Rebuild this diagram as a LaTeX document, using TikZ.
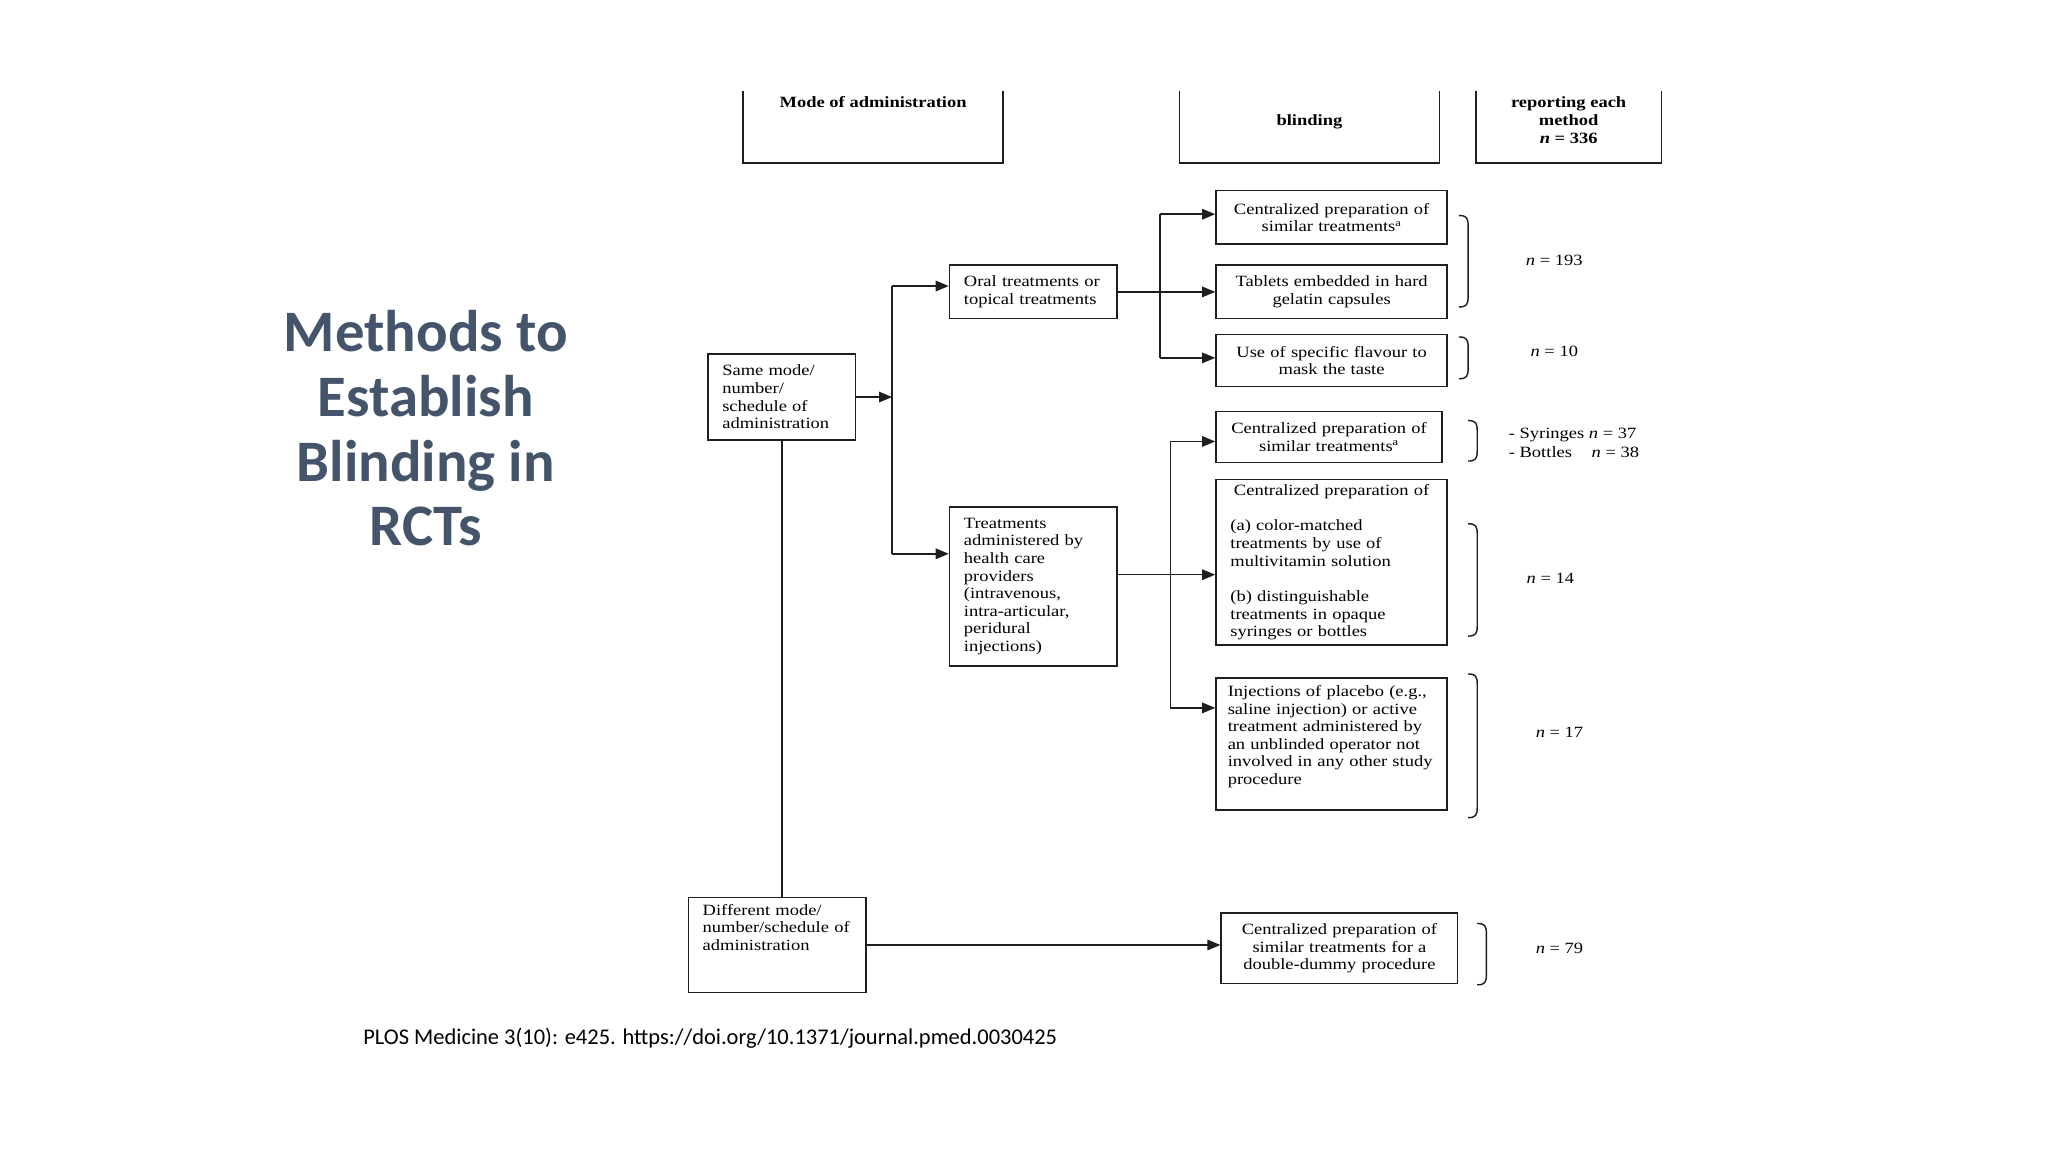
\documentclass[tikz,border=0pt]{standalone}
\usepackage{fontspec}
\setmainfont[FakeStretch=1.18]{Liberation Serif}
\newfontfamily\calibri{Carlito}
\usetikzlibrary{arrows.meta}
\definecolor{titleblue}{HTML}{44546A}
\definecolor{linec}{HTML}{1E1E1E}
\newcommand\bodyfont{\fontsize{12}{13.5}\selectfont}
\newcommand\rbrk[3]{\draw[brk] (#1,#2) .. controls (#1+6,#2) and (#1+7,#2+2) .. (#1+7,#2+8) -- (#1+7,#3-8) .. controls (#1+7,#3-2) and (#1+6,#3) .. (#1,#3);}
\tikzset{
  box/.style={draw=linec, line width=1.2pt, inner xsep=11pt, inner ysep=0pt, font=\bodyfont},
  lbox/.style={box, align=left},
  cbox/.style={box, align=center},
  conn/.style={draw=linec, line width=1.2pt},
  arr/.style={conn, -{Triangle[length=10pt,width=8pt]}},
  brk/.style={draw=linec, line width=1.1pt},
  lab/.style={font=\bodyfont, inner sep=0pt},
  hlab/.style={font=\bodyfont\bfseries, inner sep=0pt, align=center},
}
\begin{document}
\begin{tikzpicture}[x=1pt,y=-1pt]
\useasboundingbox[fill=white] (0,0) rectangle (1568,882);

% title
\node (title) [font=\calibri\bfseries\fontsize{45}{49.5}\selectfont, text=titleblue, align=center, inner sep=0pt] at (326,328) {Methods to\\Establish\\Blinding in\\RCTs};
\node (cite) [font=\calibri\fontsize{17.2}{19}\selectfont, anchor=west, inner sep=0pt] at (278,795) {PLOS Medicine 3(10): e425. https://doi.org/10.1371/journal.pmed.0030425};

% header boxes (tops cropped)
\draw[conn] (569,70) |- (768,125) -- (768,70);
\draw[conn] (903,70) |- (1102,125) -- (1102,70);
\draw[conn] (1130,70) |- (1272,125) -- (1272,70);
\node (h1) [hlab] at (668.5,78) {Mode of administration};
\node (h2) [hlab] at (1002.5,93) {blinding};
\node (h3) [hlab, font=\fontsize{12}{13.5}\selectfont\bfseries] at (1201,92) {reporting each\\method\\\textit{n} = 336};

% left boxes
\node (same) [lbox, minimum width=113, minimum height=66, text width=91] at (598.5,304) {Same mode/\\number/\\schedule of\\administration};
\node (oral) [lbox, minimum width=128, minimum height=41, text width=106] at (791,223.5) {\makebox[106pt][s]{Oral treatments or}\\topical treatments};
\node (treat) [lbox, minimum width=128, minimum height=122, text width=106] at (791,449) {Treatments\\administered by\\health care\\providers\\(intravenous,\\intra-articular,\\peridural\\injections)};
\node (diff) [lbox, minimum width=136, minimum height=73, text width=114] at (595,723.5) {Different mode/\\number/schedule of\\administration\\\mbox{}\\\mbox{}};

% right boxes
\node (c1) [cbox, minimum width=177, minimum height=41, text width=155] at (1019.5,166.5) {Centralized preparation of\\similar treatments\textsuperscript{a}};
\node (c2) [cbox, minimum width=177, minimum height=41, text width=155] at (1019.5,223.5) {Tablets embedded in hard\\gelatin capsules};
\node (c3) [cbox, minimum width=177, minimum height=40, text width=155] at (1019.5,276) {Use of specific flavour to\\mask the taste};
\node (c4) [cbox, minimum width=173, minimum height=39, text width=151] at (1017.5,334.5) {Centralized preparation of\\similar treatments\textsuperscript{a}};
\node (c5) [lbox, minimum width=177, minimum height=127, text width=155] at (1019.5,430.5) {\makebox[155pt][c]{Centralized preparation of}\\\mbox{}\\(a) color-matched\\treatments by use of\\multivitamin solution\\\mbox{}\\(b) distinguishable\\treatments in opaque\\syringes or bottles};
\node (c6) [lbox, inner xsep=9pt, minimum width=177, minimum height=101, text width=159] at (1019.5,569.5) {Injections of placebo (e.g.,\\saline injection) or active\\treatment administered by\\an unblinded operator not\\involved in any other study\\procedure\\\mbox{}};
\node (c7) [cbox, minimum width=181, minimum height=54, text width=159] at (1025.5,726) {Centralized preparation of\\similar treatments for a\\double-dummy procedure};

% junction coordinates
\coordinate (j1a) at (683,219);
\coordinate (j1b) at (683,424);
\coordinate (j2a) at (888,164);
\coordinate (j2b) at (888,274);
\coordinate (j3a) at (896,338);
\coordinate (j3b) at (896,542);
\coordinate (t5) at (855,440);

% connectors
\draw[arr] (same.east) -- (same.east -| j1a);
\draw[conn] (j1a) -- (j1b);
\draw[arr] (j1a) -- (j1a -| oral.west);
\draw[arr] (j1b) -- (j1b -| treat.west);

\draw[arr] (oral.east) -- (c2.west);
\draw[conn] (j2a) -- (j2b);
\draw[arr] (j2a) -- (j2a -| c1.west);
\draw[arr] (j2b) -- (j2b -| c3.west);

\draw[arr] (t5) -- (t5 -| c5.west);
\draw[conn] (j3a) -- (j3b);
\draw[arr] (j3a) -- (j3a -| c4.west);
\draw[arr] (j3b) -- (j3b -| c6.west);

\draw[conn] (same.south) -- (same.south |- diff.north);
\draw[arr] (diff.east) -- (diff.east -| c7.west);

% braces
\rbrk{1117}{165}{235}
\rbrk{1117}{258}{290}
\rbrk{1124}{322}{353}
\rbrk{1124}{401}{487}
\rbrk{1124}{516}{626}
\rbrk{1131}{707}{754}

% counts
\node (n1) [lab] at (1190,199) {\textit{n} = 193};
\node (n2) [lab] at (1190,269) {\textit{n} = 10};
\node (n3a) [lab, anchor=west] at (1155,333) {- Syringes \textit{n} = 37};
\node (n3b) [lab, anchor=west] at (1155,346) {- Bottles \hspace{8pt} \textit{n} = 38};
\node (n4) [lab] at (1187,443) {\textit{n} = 14};
\node (n5) [lab] at (1194,561) {\textit{n} = 17};
\node (n6) [lab] at (1194,726) {\textit{n} = 79};
\end{tikzpicture}
\end{document}
